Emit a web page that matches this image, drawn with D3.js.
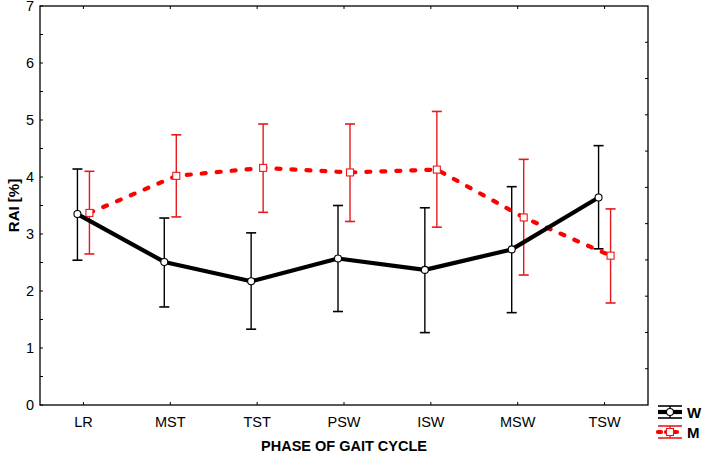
<!DOCTYPE html>
<html><head><meta charset="utf-8">
<script src="https://cdn.jsdelivr.net/npm/d3@7"></script>
<style>body{margin:0;background:#fff}svg{display:block}text{font-family:Arial,"Liberation Sans",sans-serif}</style>
</head><body><svg id="c" width="706" height="454"></svg>
<script>
const categories = ["LR","MST","TST","PSW","ISW","MSW","TSW"];
const wMean = [3.35, 2.51, 2.17, 2.57, 2.37, 2.73, 3.64];
const wLow  = [2.54, 1.72, 1.33, 1.64, 1.27, 1.62, 2.74];
const wHigh = [4.14, 3.28, 3.02, 3.50, 3.46, 3.83, 4.55];
const mMean = [3.37, 4.02, 4.16, 4.08, 4.13, 3.29, 2.62];
const mLow  = [2.65, 3.30, 3.38, 3.22, 3.12, 2.28, 1.79];
const mHigh = [4.10, 4.74, 4.93, 4.93, 5.15, 4.31, 3.44];
const yTicks = [0,1,2,3,4,5,6,7];
const seriesNames = ["W","M"];

const svg = d3.select("#c");
const L=40, R=648, T=6, B=405;
const x = d3.scaleBand().domain(categories).range([L,R]);
const y = d3.scaleLinear().domain([0,7]).range([B,T]);
const cx = c => x(c)+x.bandwidth()/2;

svg.append("rect").attr("x",L).attr("y",T).attr("width",R-L).attr("height",B-T)
  .attr("fill","none").attr("stroke","#000").attr("stroke-width",1.3);

const minor = d3.range(0,7.01,0.5);
svg.selectAll(".lt").data(minor).enter().append("line")
  .attr("x1",L).attr("x2",L+3).attr("y1",d=>y(d)).attr("y2",d=>y(d)).attr("stroke","#000");
svg.selectAll(".yl").data(yTicks).enter().append("text")
  .attr("x",34).attr("y",d=>y(d)+5).attr("text-anchor","end").attr("font-size",14.5).text(d=>d);
const yr = d3.scaleLinear().domain([0,11]).range([B,T]);
svg.selectAll(".rt").data(d3.range(1,11)).enter().append("line")
  .attr("x1",R).attr("x2",R-3).attr("y1",d=>yr(d)).attr("y2",d=>yr(d)).attr("stroke","#000");
svg.selectAll(".bt").data(categories).enter().append("line")
  .attr("x1",d=>cx(d)).attr("x2",d=>cx(d)).attr("y1",B).attr("y2",B-3).attr("stroke","#000");
svg.selectAll(".tt").data(categories).enter().append("line")
  .attr("x1",d=>cx(d)).attr("x2",d=>cx(d)).attr("y1",T).attr("y2",T+3).attr("stroke","#000");
svg.selectAll(".xl").data(categories).enter().append("text")
  .attr("x",d=>cx(d)).attr("y",427).attr("text-anchor","middle").attr("font-size",14.5).text(d=>d);

svg.append("text").attr("x",(L+R)/2).attr("y",451).attr("text-anchor","middle")
  .attr("font-size",14.5).attr("font-weight","bold").text("PHASE OF GAIT CYCLE");
svg.append("text").attr("transform",`translate(19,${(T+B)/2}) rotate(-90)`).attr("text-anchor","middle")
  .attr("font-size",15).attr("font-weight","bold").text("RAI [%]");

function series(mean, low, high, off, color, ecolor, dash, marker){
  const pts = categories.map((c,i)=>({x:cx(c)+off, m:mean[i], lo:low[i], hi:high[i]}));
  const g = svg.append("g");
  const line = d3.line().x(d=>d.x).y(d=>y(d.m));
  const p = g.append("path").datum(pts).attr("d",line).attr("fill","none")
    .attr("stroke",color).attr("stroke-width",4.2).attr("stroke-linejoin","round");
  if(dash) p.attr("stroke-dasharray",dash).attr("stroke-linecap","round");
  pts.forEach(d=>{
    g.append("line").attr("x1",d.x).attr("x2",d.x).attr("y1",y(d.lo)).attr("y2",y(d.hi)).attr("stroke",ecolor).attr("stroke-width",1.4);
    [d.lo,d.hi].forEach(v=>g.append("line").attr("x1",d.x-5).attr("x2",d.x+5).attr("y1",y(v)).attr("y2",y(v)).attr("stroke",ecolor).attr("stroke-width",1.6));
    if(marker==="circle") g.append("circle").attr("cx",d.x).attr("cy",y(d.m)).attr("r",3.5).attr("fill","#fff").attr("stroke",ecolor).attr("stroke-width",1.1);
    else g.append("rect").attr("x",d.x-3.5).attr("y",y(d.m)-3.5).attr("width",7).attr("height",7).attr("fill","#fff").attr("stroke",ecolor).attr("stroke-width",1.1);
  });
}
series(mMean,mLow,mHigh,6,"#ff0000","#e8191c","4 11","square");
series(wMean,wLow,wHigh,-6,"#000","#000",null,"circle");

const leg = [{n:seriesNames[0],c:"#000",e:"#000",m:"circle",yy:412,dash:null},
             {n:seriesNames[1],c:"#ff0000",e:"#e8191c",m:"square",yy:432,dash:"3 5"}];
leg.forEach(l=>{
  const g = svg.append("g");
  const x0=658, x1=682, xm=670;
  g.append("line").attr("x1",x0).attr("x2",x1).attr("y1",l.yy-6).attr("y2",l.yy-6).attr("stroke",l.e).attr("stroke-width",1.6);
  g.append("line").attr("x1",x0).attr("x2",x1).attr("y1",l.yy+6).attr("y2",l.yy+6).attr("stroke",l.e).attr("stroke-width",1.6);
  g.append("line").attr("x1",xm).attr("x2",xm).attr("y1",l.yy-6).attr("y2",l.yy+6).attr("stroke",l.e).attr("stroke-width",1.4);
  const ln = g.append("line").attr("x1",x0).attr("x2",x1).attr("y1",l.yy).attr("y2",l.yy).attr("stroke",l.c).attr("stroke-width",4.2);
  if(l.dash) ln.attr("stroke-dasharray",l.dash).attr("stroke-linecap","round");
  if(l.m==="circle") g.append("circle").attr("cx",xm).attr("cy",l.yy).attr("r",3.5).attr("fill","#fff").attr("stroke",l.e).attr("stroke-width",1.1);
  else g.append("rect").attr("x",xm-3.5).attr("y",l.yy-3.5).attr("width",7).attr("height",7).attr("fill","#fff").attr("stroke",l.e).attr("stroke-width",1.1);
  g.append("text").attr("x",687).attr("y",l.yy+5.5).attr("font-size",15).attr("font-weight","bold").text(l.n);
});
</script></body></html>
